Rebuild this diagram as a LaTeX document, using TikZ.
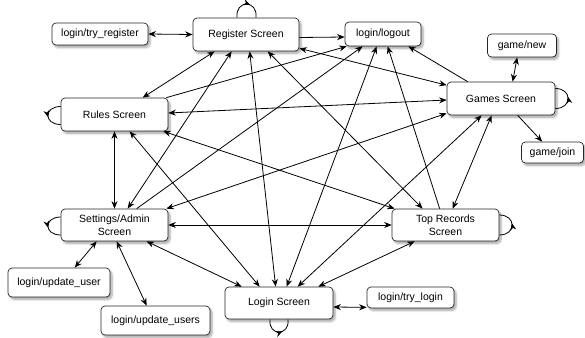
\documentclass[tikz,border=0pt]{standalone}
\usepackage{fontspec}
\setmainfont{Liberation Sans}
\usetikzlibrary{arrows.meta,shadows.blur,decorations.markings}
\begin{document}
\begin{tikzpicture}[x=1pt,y=-1pt,
  >={Stealth[length=7.5pt,width=6pt]},
  box/.style 2 args={draw=black!85, line width=0.7pt, rounded corners=4pt, fill=white,
    minimum width=#1pt, minimum height=#2pt, inner sep=0pt, align=center,
    font=\fontsize{10.5}{13}\selectfont,
    blur shadow={shadow xshift=2pt, shadow yshift=-2.5pt, shadow blur steps=6, shadow opacity=35}},
  both/.style={line width=0.8pt, <->},
  one/.style={line width=0.8pt, ->},
  selfloop/.style={line width=0.8pt, postaction={decorate},
    decoration={markings, mark=at position #1 with {\arrow{Stealth[length=7pt,width=6pt]}}}},
]
\useasboundingbox (0,0) rectangle (585,337);

\node[box={96}{22}] (tr) at (100,34) {login/try\_register};
\node[box={106}{33}] (reg) at (246,34.5) {Register Screen};
\node[box={76}{24}] (out) at (383,34) {login/logout};
\node[box={69}{23}] (gn) at (522,45.5) {game/new};
\node[box={108}{33}] (gam) at (501,98.5) {Games Screen};
\node[box={62}{21}] (gj) at (552.5,152.5) {game/join};
\node[box={107}{33}] (rul) at (114.5,114.5) {Rules Screen};
\node[box={107}{32}] (set) at (114.5,225) {Settings/Admin\\Screen};
\node[box={107}{32}] (top) at (445.5,225) {Top Records\\Screen};
\node[box={102}{29}] (uu) at (59,282.5) {login/update\_user};
\node[box={109}{29}] (us) at (155.5,320.5) {login/update\_users};
\node[box={108}{32}] (log) at (279,303) {Login Screen};
\node[box={87}{21}] (tl) at (410.5,297.5) {login/try\_login};

% Register Screen
\draw[both] (tr.east) -- (reg.west);
\draw[one] ([yshift=-3pt]reg.east) -- ([yshift=-3pt]out.west);
\draw[both] ([xshift=22pt]reg.south west) -- ([xshift=82pt]rul.north west);
\draw[both] ([xshift=39pt]reg.south west) -- ([xshift=67pt]set.north west);
\draw[both] ([xshift=57pt]reg.south west) -- ([xshift=51pt]log.north west);
\draw[both] ([xshift=75pt]reg.south west) -- ([xshift=31pt]top.north west);
\draw[both] ([yshift=3pt]reg.south east) -- ([yshift=-3.5pt]gam.north west);
% Rules Screen
\draw[one] ([xshift=-2pt]rul.north east) -- ([xshift=2pt]out.south west);
\draw[both] ([yshift=1.5pt]rul.east) -- ([yshift=-1.5pt]gam.west);
\draw[both] ([xshift=-5pt]rul.south east) -- ([xshift=3pt]top.north west);
\draw[both] (rul.south) -- (set.north);
\draw[both] ([xshift=69pt]rul.south west) -- ([xshift=35pt]log.north west);
% Games Screen
\draw[one] ([xshift=21pt]gam.north west) -- ([xshift=-13pt]out.south east);
\draw[both] ([xshift=66pt]gam.north west) -- ([xshift=30pt]gn.south west);
\draw[one] ([xshift=71pt]gam.south west) -- ([xshift=21pt]gj.north west);
\draw[both] ([yshift=2pt]gam.south west) -- ([xshift=-2pt]set.north east);
\draw[both] ([xshift=35pt]gam.south west) -- ([xshift=73pt]log.north west);
\draw[both] ([xshift=45pt]gam.south west) -- ([xshift=61pt]top.north west);
% Settings/Admin Screen
\draw[one] ([xshift=76pt]set.north west) -- ([xshift=18pt]out.south west);
\draw[both] (set.east) -- (top.west);
\draw[both] ([xshift=86pt]set.south west) -- ([xshift=17pt]log.north west);
\draw[both] ([xshift=36pt]set.south west) -- ([xshift=67pt]uu.north west);
\draw[both] ([xshift=56pt]set.south west) -- ([xshift=46pt]us.north west);
% Top Records / Login
\draw[one] ([xshift=48pt]top.north west) -- ([xshift=43pt]out.south west);
\draw[both] ([xshift=23pt]top.south west) -- ([xshift=-15pt]log.north east);
\draw[both] ([xshift=62pt]log.north west) -- ([xshift=32pt]out.south west);
\draw[both] ([yshift=-4pt]log.east) -- ([yshift=1pt]tl.south west);

% self loops
\draw[selfloop=0.6] ([xshift=-9pt]reg.north) .. controls +(-2,-18) and +(2,-18) .. ([xshift=10pt]reg.north);
\draw[selfloop=0.55] ([yshift=8pt]rul.west) .. controls +(-17,0) and +(-17,0) .. ([yshift=-10pt]rul.west);
\draw[selfloop=0.55] ([yshift=8pt]set.west) .. controls +(-17,0) and +(-17,0) .. ([yshift=-10pt]set.west);
\draw[selfloop=0.55] ([yshift=-10pt]gam.east) .. controls +(17,0) and +(17,0) .. ([yshift=10pt]gam.east);
\draw[selfloop=0.55] ([yshift=-10pt]top.east) .. controls +(17,0) and +(17,0) .. ([yshift=10pt]top.east);
\draw[selfloop=0.6] ([xshift=-9pt]log.south) .. controls +(-2,17) and +(2,17) .. ([xshift=9pt]log.south);
\end{tikzpicture}
\end{document}
